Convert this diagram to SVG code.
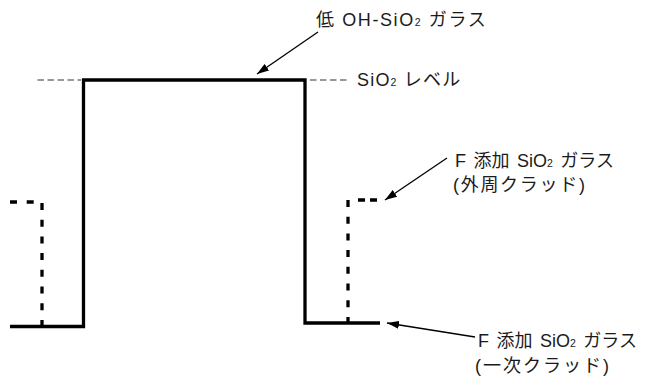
<svg xmlns="http://www.w3.org/2000/svg" width="661" height="378" viewBox="0 0 661 378">
<defs>
<marker id="ah" markerWidth="12" markerHeight="8" refX="12" refY="4" orient="auto" markerUnits="userSpaceOnUse">
<path d="M0,0 L12,4 L0,8 Z" fill="#000"/>
</marker>
<style>
.t{font-family:"Liberation Sans","Noto Sans CJK JP",sans-serif;font-size:18px;fill:#1a1a1a}
.sub{font-size:10.5px}
.prof{fill:none;stroke:#000;stroke-width:3.3}
.dash{fill:none;stroke:#000;stroke-width:3.3;stroke-dasharray:7 9.7}
.lvl{fill:none;stroke:#777;stroke-width:1.3;stroke-dasharray:6.5 3.5}
.ar{fill:none;stroke:#000;stroke-width:1.3;marker-end:url(#ah)}
</style>
</defs>
<g id="profile">
<path class="prof" d="M10,326.5 H83.5 V80 H305 V323 H380"/>
</g>
<g id="outer-cladding">
<line class="dash" x1="10" y1="202" x2="40" y2="202"/>
<line class="dash" x1="42" y1="203" x2="42" y2="326"/>
<line class="dash" x1="348" y1="200" x2="348" y2="323"/>
<line class="dash" x1="358" y1="200" x2="382" y2="200" style="stroke-dasharray:7 5"/>
</g>
<g id="sio2-level">
<line class="lvl" x1="37.5" y1="80" x2="81" y2="80"/>
<line class="lvl" x1="310" y1="80" x2="350" y2="80"/>
<text class="t" x="357" y="86" letter-spacing="1.2">SiO<tspan class="sub">2</tspan> レベル</text>
</g>
<g id="label-core">
<text class="t" x="316" y="26" letter-spacing="1.6">低 OH-SiO<tspan class="sub">2</tspan> ガラス</text>
</g>
<g id="label-outer">
<text class="t" x="455" y="167" word-spacing="2.5">F 添加 SiO<tspan class="sub">2</tspan> ガラス</text>
<text class="t" x="453" y="191" letter-spacing="1.7">(外周クラッド)</text>
</g>
<g id="label-inner">
<text class="t" x="478" y="347" word-spacing="2.5">F 添加 SiO<tspan class="sub">2</tspan> ガラス</text>
<text class="t" x="475" y="372" letter-spacing="2">(一次クラッド)</text>
</g>
<g id="connectors">
<line class="ar" x1="318" y1="32" x2="257" y2="74"/>
<line class="ar" x1="447" y1="158" x2="385" y2="200"/>
<line class="ar" x1="475" y1="337" x2="387" y2="323"/>
</g>
</svg>
